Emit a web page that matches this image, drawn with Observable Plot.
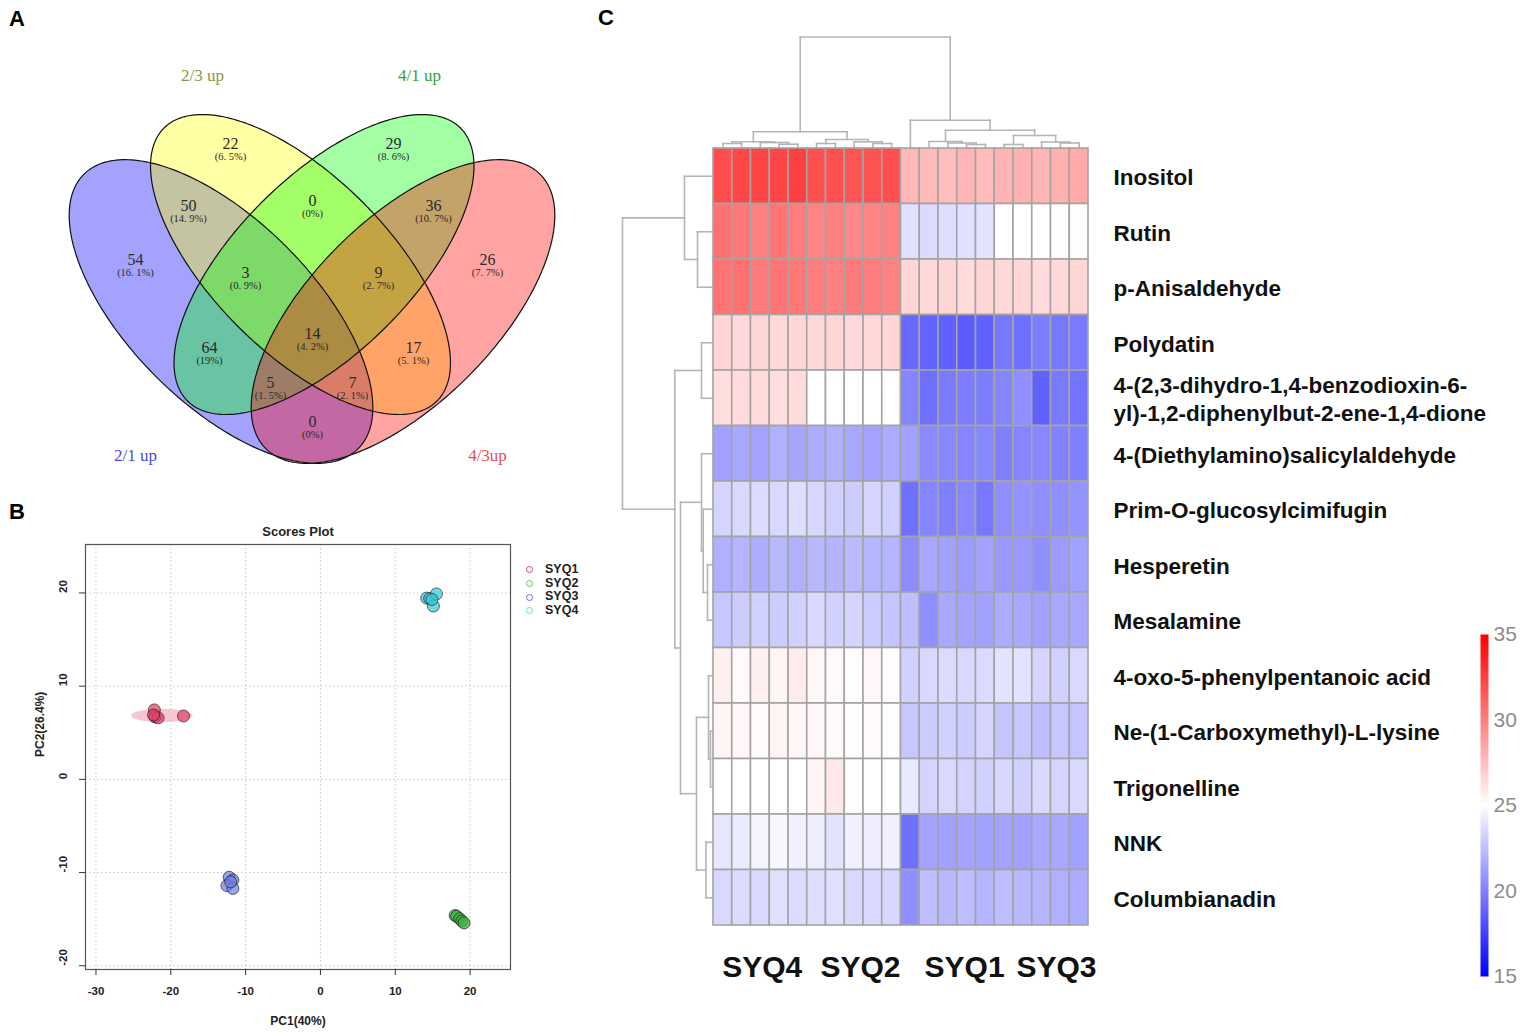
<!DOCTYPE html>
<html><head><meta charset="utf-8">
<script src="https://cdn.jsdelivr.net/npm/d3@7"></script>
<script src="https://cdn.jsdelivr.net/npm/@observablehq/plot@0.6"></script>
<style>
body{margin:0;background:#fff;}
#root{position:relative;width:1522px;height:1036px;overflow:hidden;font-family:"Liberation Sans",Arial,sans-serif;background:#fff;}
.panel{position:absolute;}
.panel svg{max-width:none !important;}
.tag{position:absolute;font-weight:bold;font-size:22px;line-height:1;color:#000;}
.leg{position:absolute;font-weight:bold;font-size:12.5px;color:#222;}
.leg div{height:13.7px;line-height:13.7px;white-space:nowrap;}
.leg span.c{display:inline-block;width:7px;height:7px;border:1.4px solid;border-radius:50%;margin-right:12px;vertical-align:middle;box-sizing:border-box;}
</style></head><body><div id="root"></div>
<script>
// ================= DATA =================
// ---- Panel A : Venn diagram (ellipse parameters in Venn units) ----
const vennSets   = ["2/1 up", "2/3 up", "4/1 up", "4/3up"];
const vennColors = ["#0000ff", "#ffff00", "#00ff00", "#ff0000"];
const vennTextColors = ["#4b4bdc", "#939342", "#3c9d3c", "#e25252"];
const ellCx    = [0.441, 0.600, 0.647, 0.805];
const ellCy    = [0.338, 0.432, 0.432, 0.338];
const ellA     = [0.388, 0.386, 0.386, 0.388];
const ellB     = [0.184, 0.176, 0.176, 0.184];
const ellAngle = [-45, -45, 45, 45];
const setLabelX = [0.270, 0.404, 0.838, 0.974];
const setLabelY = [0.050, 0.810, 0.810, 0.050];
const regionCounts   = [22, 29, 50, 0, 36, 54, 3, 9, 26, 14, 64, 17, 5, 7, 0];
const regionPercents = ["(6. 5%)","(8. 6%)","(14. 9%)","(0%)","(10. 7%)","(16. 1%)","(0. 9%)","(2. 7%)","(7. 7%)","(4. 2%)","(19%)","(5. 1%)","(1. 5%)","(2. 1%)","(0%)"];
const regionX = [0.460, 0.786, 0.376, 0.624, 0.866, 0.270, 0.490, 0.756, 0.974, 0.624, 0.418, 0.826, 0.540, 0.704, 0.624];
const regionY = [0.674, 0.674, 0.550, 0.560, 0.550, 0.442, 0.416, 0.416, 0.442, 0.294, 0.266, 0.266, 0.196, 0.196, 0.118];

// ---- Panel B : PCA scores ----
const pcaGroups = ["SYQ1", "SYQ2", "SYQ3", "SYQ4"];
const pcaColors = ["#e0406a", "#3fae3f", "#6f80e6", "#3cc8dc"];
const pcaLegendColors = ["#e0406a", "#5cc65c", "#6a6ae0", "#5fdde2"];
const pc1 = {
  SYQ1: [-22.2, -22.1, -21.7, -22.3, -18.3],
  SYQ2: [18.0, 18.2, 18.6, 18.9, 19.2],
  SYQ3: [-12.2, -11.7, -12.5, -11.7, -12.0],
  SYQ4: [14.2, 14.6, 15.5, 15.1, 14.9]
};
const pc2 = {
  SYQ1: [7.45, 6.7, 6.6, 6.9, 6.8],
  SYQ2: [-14.6, -14.7, -14.95, -15.2, -15.4],
  SYQ3: [-10.5, -10.8, -11.4, -11.7, -11.0],
  SYQ4: [19.45, 19.4, 19.9, 18.6, 19.3]
};
const syq1Ellipse = {cx: -21.2, cy: 6.85, rx: 4.1, ry: 0.72};
const pcXTicks = [-30, -20, -10, 0, 10, 20];
const pcYTicks = [-20, -10, 0, 10, 20];

// ---- Panel C : heatmap ----
const rowNames = [
  "Inositol", "Rutin", "p-Anisaldehyde", "Polydatin",
  "4-(2,3-dihydro-1,4-benzodioxin-6-\nyl)-1,2-diphenylbut-2-ene-1,4-dione",
  "4-(Diethylamino)salicylaldehyde", "Prim-O-glucosylcimifugin", "Hesperetin",
  "Mesalamine", "4-oxo-5-phenylpentanoic acid", "Ne-(1-Carboxymethyl)-L-lysine",
  "Trigonelline", "NNK", "Columbianadin"
];
const groupLabels  = ["SYQ4", "SYQ2", "SYQ1", "SYQ3"];
const groupCenters = [2.6, 7.84, 13.39, 18.29]; // in column units
const heatValues = [
  [32.0,32.2,32.3,32.3,32.5,31.9,31.9,31.7,31.8,31.9, 27.8,27.7,27.6,27.9,27.7,28.0,28.1,27.9,28.1,28.3],
  [30.6,30.3,30.0,30.4,30.1,29.8,30.0,29.7,29.8,29.9, 23.8,23.6,23.7,23.8,23.9,25.0,25.0,25.0,25.1,25.1],
  [30.5,30.6,30.2,30.4,30.3,30.1,30.0,30.2,30.1,29.9, 26.6,26.5,26.6,26.4,26.6,26.5,26.6,26.4,26.5,26.6],
  [26.6,26.5,26.6,26.5,26.6,26.5,26.6,26.5,26.5,26.6, 19.1,18.9,18.8,18.6,18.8,19.7,19.4,19.9,19.7,19.8],
  [26.3,26.4,26.4,26.3,26.4,25.0,25.0,25.0,25.0,25.0, 20.2,19.4,19.8,19.9,19.9,20.2,20.6,18.8,19.8,19.5],
  [21.3,21.6,21.4,21.9,21.5,21.7,21.9,21.6,21.4,21.7, 21.3,20.4,20.3,20.2,20.3,20.0,20.2,20.3,20.1,20.0],
  [23.3,23.5,23.6,23.5,23.7,23.4,23.2,23.0,23.3,23.2, 19.4,20.2,20.0,20.3,19.7,20.6,20.8,20.6,20.6,20.8],
  [21.9,22.1,21.8,22.2,21.9,22.2,22.0,22.3,22.1,22.1, 20.5,21.6,21.3,21.1,21.4,21.0,21.0,20.6,21.1,21.3],
  [22.8,23.0,23.2,23.0,23.2,23.5,23.2,23.3,23.0,22.7, 22.5,20.6,21.6,21.4,21.3,21.7,21.6,21.3,21.6,21.6],
  [25.6,25.2,25.6,25.4,25.8,25.3,25.2,25.1,25.3,25.1, 23.2,23.5,23.6,23.5,23.6,23.9,23.9,23.3,23.2,23.5],
  [25.4,25.3,25.2,25.4,25.3,25.3,25.2,25.1,25.2,25.1, 22.8,23.0,23.2,23.0,23.3,22.7,22.8,22.5,22.8,22.7],
  [25.0,25.0,25.0,25.0,25.0,25.4,25.9,25.1,25.0,25.0, 24.1,23.3,23.5,23.3,23.2,23.4,23.2,23.5,23.3,23.5],
  [24.0,24.2,24.6,24.7,24.4,24.3,23.9,24.4,24.3,24.4, 19.4,21.4,21.3,21.4,21.3,21.4,21.3,21.6,21.6,21.3],
  [23.5,23.6,23.5,23.8,23.6,23.7,23.8,23.5,23.5,23.4, 20.6,22.5,22.2,22.4,22.1,22.4,22.2,22.1,21.9,21.7]
];
// dendrograms: [mergeHeight, left, right], leaves = index
const rowTree = [91, [29, 0, [16, 1, 2]],
  [38.7, [12, 3, 4], [33, [12, 5, [10.3, 6, [6, 7, 8]]], [17, [5, 9, [3, 10, 11]], [7.5, 12, 13]]]]];
const colTree = [111.5,
  [16.7, [6.7, [5, 0, 1], [6, 2, [4.3, 3, 4]]], [9, [5, 5, 6], [6.7, 7, [5, 8, 9]]]],
  [28.3, 10, [18.3, [7, 11, [5.5, 12, [4, 13, 14]]], [13, [4, 15, 16], [6.5, 17, [5.5, 18, 19]]]]]];
const colorTicks = [15, 20, 25, 30, 35];

// ================= HELPERS =================
const root = document.getElementById("root");
function place(el, left, top, cls) {
  const d = document.createElement("div");
  d.className = cls || "panel";
  d.style.left = left + "px"; d.style.top = top + "px";
  if (typeof el === "string") d.textContent = el; else d.appendChild(el);
  root.appendChild(d); return d;
}
function ellipsePoly(cx, cy, a, b, deg, n = 240) {
  const th = deg * Math.PI / 180, pts = [];
  for (let k = 0; k <= n; k++) {
    const t = 2 * Math.PI * k / n;
    pts.push({x: cx + a * Math.cos(t) * Math.cos(th) - b * Math.sin(t) * Math.sin(th),
              y: cy + a * Math.cos(t) * Math.sin(th) + b * Math.sin(t) * Math.cos(th)});
  }
  return pts;
}
function dendroSegs(tree) {
  const segs = [];
  (function walk(n) {
    if (typeof n === "number") return {p: n + 0.5, h: 0};
    const [h, l, r] = n, L = walk(l), R = walk(r);
    segs.push({p1: L.p, p2: R.p, h1: h, h2: h});
    segs.push({p1: L.p, p2: L.p, h1: L.h, h2: h});
    segs.push({p1: R.p, p2: R.p, h1: R.h, h2: h});
    return {p: (L.p + R.p) / 2, h};
  })(tree);
  return segs;
}

// ================= PANEL A =================
const serif = "'Liberation Serif','DejaVu Serif',serif";
const ellipses = vennSets.map((s, i) => ellipsePoly(ellCx[i], ellCy[i], ellA[i], ellB[i], ellAngle[i]));
const regions = regionCounts.map((c, i) => ({c: String(c), p: regionPercents[i], x: regionX[i], y: regionY[i]}));
const setLabs = vennSets.map((s, i) => ({s, x: setLabelX[i], y: setLabelY[i], col: vennTextColors[i]}));
const plotA = Plot.plot({
  width: 560, height: 480, margin: 0,
  x: {domain: [0, 1.12], axis: null}, y: {domain: [0, 0.96], axis: null},
  marks: [
    ...ellipses.map((pts, i) => Plot.line(pts, {x: "x", y: "y", fill: vennColors[i], fillOpacity: 0.36, stroke: "none"})),
    ...ellipses.map(pts => Plot.line(pts, {x: "x", y: "y", stroke: "#111", strokeWidth: 1.2})),
    Plot.text(regions, {x: "x", y: "y", text: "c", fontSize: 16, fontFamily: serif, fill: "#2a2a2a"}),
    Plot.text(regions, {x: "x", y: "y", text: "p", dy: 13.4, fontSize: 10.5, fontFamily: serif, fill: "#2a2a2a"}),
    Plot.text(setLabs, {x: "x", y: "y", text: "s", fill: "col", fontSize: 17, fontFamily: serif})
  ]
});
place(plotA, 0, 0);

// ================= PANEL B =================
const pcaPoints = pcaGroups.flatMap(g => pc1[g].map((v, i) => ({g, x: v, y: pc2[g][i]})));
const e1 = ellipsePoly(syq1Ellipse.cx, syq1Ellipse.cy, syq1Ellipse.rx, syq1Ellipse.ry, 0);
const fontB = "'Liberation Sans',Arial,sans-serif";
const plotB = Plot.plot({
  width: 600, height: 536,
  marginLeft: 85, marginRight: 90, marginTop: 44, marginBottom: 67,
  style: {fontFamily: fontB, fontSize: "11.5px", color: "#222"},
  x: {domain: [-31.4, 25.4], axis: null},
  y: {domain: [-20.4, 25.2], axis: null},
  color: {domain: pcaGroups, range: pcaColors},
  marks: [
    Plot.gridX(pcXTicks, {stroke: "#c8c8c8", strokeOpacity: 1, strokeDasharray: "1.5,2.5"}),
    Plot.gridY(pcYTicks, {stroke: "#c8c8c8", strokeOpacity: 1, strokeDasharray: "1.5,2.5"}),
    Plot.line(e1, {x: "x", y: "y", fill: "#f3b3c3", fillOpacity: 0.75, stroke: "none"}),
    Plot.dot(pcaPoints, {x: "x", y: "y", fill: "g", fillOpacity: 0.72, stroke: "#1a1a1a", strokeOpacity: 0.65, strokeWidth: 1, r: 6}),
    Plot.frame({stroke: "#555", strokeWidth: 1.2}),
    Plot.axisX({ticks: pcXTicks, tickSize: 6, tickFormat: () => "", label: null, stroke: "#333"}),
    Plot.axisY({ticks: pcYTicks, tickSize: 6, tickFormat: () => "", label: null, stroke: "#333"}),
    Plot.text(pcXTicks, {x: d => d, frameAnchor: "bottom", dy: 25, text: d => String(d), fontWeight: "bold", fontSize: 11.5, fill: "#222"}),
    Plot.text(pcYTicks, {y: d => d, frameAnchor: "left", dx: -22, rotate: -90, text: d => String(d), fontWeight: "bold", fontSize: 11.5, fill: "#222"}),
    Plot.text(["Scores Plot"], {frameAnchor: "top", dy: -17.5, text: d => d, fontWeight: "bold", fontSize: 13, fill: "#222"}),
    Plot.text(["PC1(40%)"], {frameAnchor: "bottom", dy: 55, text: d => d, fontWeight: "bold", fontSize: 12, fill: "#222"}),
    Plot.text(["PC2(26.4%)"], {frameAnchor: "left", dx: -45, rotate: -90, text: d => d, fontWeight: "bold", fontSize: 12, fill: "#222"})
  ]
});
place(plotB, 0, 500);
// legend for panel B
const legB = document.createElement("div");
pcaGroups.forEach((g, i) => {
  const row = document.createElement("div");
  const c = document.createElement("span"); c.className = "c"; c.style.borderColor = pcaLegendColors[i];
  row.appendChild(c); row.appendChild(document.createTextNode(g)); legB.appendChild(row);
});
place(legB, 526, 563, "leg");

// ================= PANEL C =================
const colorOpts = {type: "linear", domain: [15, 25, 35], range: ["#0000ff", "#ffffff", "#ff0000"], interpolate: "rgb"};
const cells = heatValues.flatMap((row, r) => row.map((v, c) => ({r, c, v})));
const colPx = 18.75, rowPx = 55.5;
const rowSegs = dendroSegs(rowTree), colSegs = dendroSegs(colTree);
const rowLabs = rowNames.map((n, i) => ({n, y: i + 0.5}));
const groups = groupLabels.map((g, i) => ({g, x: groupCenters[i]}));
const plotC = Plot.plot({
  width: 922, height: 1036,
  marginLeft: 113, marginRight: 434, marginTop: 148, marginBottom: 111,
  style: {fontFamily: fontB},
  x: {domain: [0, 20], axis: null}, y: {domain: [14, 0], axis: null},
  color: colorOpts,
  marks: [
    Plot.link(rowSegs, {x1: d => -d.h1 / colPx, x2: d => -d.h2 / colPx, y1: "p1", y2: "p2", stroke: "#b5b5b5", strokeWidth: 1.6, strokeLinecap: "square"}),
    Plot.link(colSegs, {x1: "p1", x2: "p2", y1: d => -d.h1 / rowPx, y2: d => -d.h2 / rowPx, stroke: "#b5b5b5", strokeWidth: 1.6, strokeLinecap: "square"}),
    Plot.rect(cells, {x1: "c", x2: d => d.c + 1, y1: "r", y2: d => d.r + 1, fill: "v", stroke: "#a4a4a4", strokeWidth: 1.6}),
    Plot.text(rowLabs, {x: 20, y: "y", text: "n", dx: 25, textAnchor: "start", fontSize: 22.5, fontWeight: "bold", fill: "#111", lineHeight: 1.24}),
    Plot.text(groups, {x: "x", y: 14, text: "g", dy: 42, fontSize: 30, fontWeight: "bold", fill: "#111"})
  ]
});
place(plotC, 600, 0);

// colour key
const plotKey = Plot.plot({
  width: 52, height: 370,
  marginLeft: 10, marginRight: 34, marginTop: 14, marginBottom: 14,
  style: {fontFamily: fontB, overflow: "visible"},
  x: {domain: [0, 1], axis: null},
  y: {domain: [15, 35], axis: null},
  color: colorOpts,
  marks: [
    Plot.raster({x1: 0, x2: 1, y1: 15, y2: 35, width: 1, height: 300, fill: (x, y) => y}),
    Plot.axisY({anchor: "right", ticks: colorTicks, tickSize: 0, tickPadding: 5, label: null, fontSize: 21, color: "#8c8c8c", tickFormat: d => String(d)})
  ]
});
place(plotKey, 1470, 620);

// panel tags
place("A", 9, 8, "tag");
place("B", 9, 501, "tag");
place("C", 598, 7, "tag");
</script></body></html>
